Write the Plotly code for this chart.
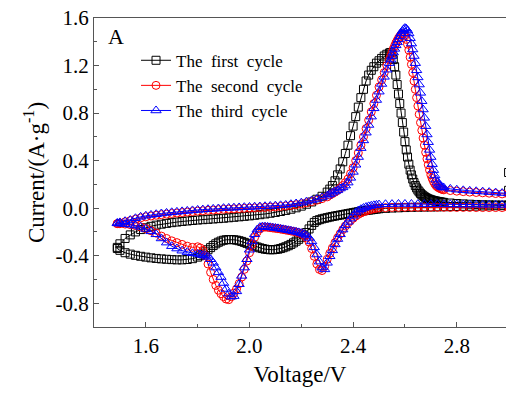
import plotly.graph_objects as go

# Voltage grid of the anodic (forward) sweep, 1.49 V -> 3.00 V
V_AN = [1.49, 1.50, 1.52, 1.54, 1.56, 1.58, 1.60, 1.62, 1.64, 1.66, 1.68, 1.70, 1.72, 1.74,
        1.76, 1.78, 1.80, 1.82, 1.84, 1.86, 1.88, 1.90, 1.92, 1.94, 1.96, 1.98, 2.00, 2.02,
        2.04, 2.06, 2.08, 2.10, 2.12, 2.14, 2.16, 2.18, 2.20, 2.22, 2.24, 2.26, 2.28, 2.30,
        2.31, 2.32, 2.33, 2.34, 2.35, 2.36, 2.37, 2.38, 2.39, 2.40, 2.41, 2.42, 2.43, 2.44,
        2.45, 2.46, 2.47, 2.48, 2.49, 2.50, 2.51, 2.52, 2.53, 2.54,
        2.545, 2.55, 2.555, 2.56, 2.565, 2.57, 2.575, 2.58, 2.585, 2.59, 2.595, 2.60, 2.605,
        2.61, 2.615, 2.62, 2.625, 2.63, 2.635, 2.64, 2.645, 2.65, 2.655, 2.66, 2.665, 2.67,
        2.675, 2.68, 2.685, 2.69, 2.695, 2.70, 2.705, 2.71, 2.715, 2.72, 2.725, 2.73, 2.735,
        2.74, 2.745, 2.75,
        2.775, 2.80, 2.825, 2.85, 2.875, 2.90, 2.925, 2.95, 2.975, 3.00]

# Voltage grid of the cathodic (reverse) sweep, 3.00 V -> 1.49 V
V_CAT = [3.000, 2.975, 2.950, 2.925, 2.900, 2.875, 2.850, 2.825, 2.800, 2.775, 2.750, 2.725,
         2.700, 2.675, 2.650, 2.625, 2.600, 2.575, 2.550, 2.525, 2.500,
         2.49, 2.48, 2.47, 2.46, 2.45, 2.44, 2.43, 2.42, 2.41, 2.40,
         2.39, 2.38, 2.37, 2.36, 2.35, 2.34, 2.33, 2.32, 2.31, 2.30,
         2.29, 2.28, 2.27, 2.26, 2.25, 2.24, 2.23, 2.22, 2.21, 2.20,
         2.19, 2.18, 2.17, 2.16, 2.15, 2.14, 2.13, 2.12, 2.11, 2.10,
         2.09, 2.08, 2.07, 2.06, 2.05, 2.04, 2.03, 2.02, 2.01, 2.00,
         1.99, 1.98, 1.97, 1.96, 1.95, 1.94, 1.93, 1.92, 1.91, 1.90,
         1.89, 1.88, 1.87, 1.86, 1.85, 1.84, 1.83, 1.82, 1.81, 1.80,
         1.78, 1.76, 1.74, 1.72, 1.70, 1.68, 1.66, 1.64, 1.62, 1.60, 1.58, 1.56, 1.54, 1.52,
         1.50, 1.49]

# ---- first cycle (black squares) ----
START1_V = [3.00, 3.00]
START1_I = [0.30, 0.15]
I1_CAT = [0.022, 0.021, 0.02, 0.019, 0.018, 0.017, 0.016, 0.015, 0.014, 0.013, 0.012, 0.011,
          0.01, 0.009, 0.008, 0.007, 0.005, 0.003, 0.001, -0.002, -0.005,
          -0.008, -0.011, -0.014, -0.017, -0.02, -0.023, -0.026, -0.03, -0.034, -0.038,
          -0.042, -0.046, -0.05, -0.054, -0.058, -0.062, -0.066, -0.07, -0.075, -0.08,
          -0.085, -0.09, -0.097, -0.105, -0.12, -0.145, -0.175, -0.205, -0.225, -0.245,
          -0.262, -0.278, -0.292, -0.305, -0.316, -0.325, -0.333, -0.34, -0.345, -0.348,
          -0.35, -0.35, -0.348, -0.345, -0.34, -0.334, -0.327, -0.32, -0.312, -0.304,
          -0.296, -0.288, -0.28, -0.274, -0.269, -0.266, -0.264, -0.264, -0.266, -0.27,
          -0.277, -0.287, -0.30, -0.315, -0.332, -0.35, -0.368, -0.385, -0.40, -0.412,
          -0.425, -0.432, -0.435, -0.435, -0.433, -0.43, -0.427, -0.423, -0.418, -0.412,
          -0.405, -0.397, -0.387, -0.375, -0.355, -0.34]
I1_AN = [-0.33, -0.30, -0.255, -0.225, -0.20, -0.18, -0.165, -0.153, -0.143, -0.135, -0.128,
         -0.122, -0.117, -0.112, -0.108, -0.104, -0.10, -0.097, -0.094, -0.091, -0.088, -0.085,
         -0.081, -0.077, -0.073, -0.069, -0.065, -0.06, -0.055, -0.049, -0.043, -0.036,
         -0.028, -0.019, -0.009, 0.003, 0.017, 0.033, 0.052, 0.075, 0.10, 0.135,
         0.16, 0.19, 0.23, 0.28, 0.33, 0.39, 0.46, 0.53, 0.61, 0.69, 0.77, 0.85, 0.93, 1.00,
         1.07, 1.12, 1.16, 1.19, 1.22, 1.24, 1.26, 1.28, 1.295, 1.305,
         1.31, 1.29, 1.25, 1.19, 1.12, 1.04, 0.96, 0.88, 0.80, 0.72, 0.64, 0.56, 0.49, 0.43,
         0.37, 0.32, 0.28, 0.245, 0.215, 0.19, 0.17, 0.152, 0.137, 0.124, 0.113, 0.104,
         0.096, 0.089, 0.083, 0.078, 0.074, 0.07, 0.067, 0.064, 0.061, 0.059, 0.057, 0.055,
         0.053, 0.051, 0.049, 0.048,
         0.043, 0.039, 0.036, 0.033, 0.031, 0.029, 0.028, 0.027, 0.026, 0.026]

# ---- second cycle (red circles) ----
I2_CAT = [0.005, 0.005, 0.005, 0.005, 0.005, 0.005, 0.006, 0.006, 0.006, 0.006, 0.007, 0.007,
          0.007, 0.008, 0.008, 0.008, 0.008, 0.007, 0.006, 0.004, 0.002,
          -0.001, -0.005, -0.01, -0.016, -0.023, -0.031, -0.041, -0.052, -0.067, -0.085,
          -0.105, -0.125, -0.15, -0.18, -0.215, -0.25, -0.29, -0.335, -0.38, -0.43,
          -0.49, -0.525, -0.515, -0.47, -0.405, -0.34, -0.285, -0.25, -0.228, -0.215,
          -0.207, -0.201, -0.196, -0.192, -0.188, -0.184, -0.18, -0.176, -0.173, -0.17,
          -0.167, -0.164, -0.161, -0.159, -0.161, -0.175, -0.20, -0.245, -0.305, -0.375,
          -0.445, -0.515, -0.58, -0.635, -0.68, -0.715, -0.745, -0.77, -0.765, -0.745,
          -0.72, -0.69, -0.65, -0.60, -0.54, -0.47, -0.40, -0.355, -0.335, -0.325,
          -0.33, -0.32, -0.305, -0.29, -0.275, -0.255, -0.235, -0.21, -0.19, -0.172,
          -0.158, -0.147, -0.139, -0.134, -0.131, -0.13]
I2_AN = [-0.13, -0.125, -0.115, -0.105, -0.093, -0.082, -0.073, -0.066, -0.06, -0.055, -0.05,
         -0.045, -0.041, -0.037, -0.033, -0.029, -0.025, -0.022, -0.019, -0.016, -0.013, -0.01,
         -0.008, -0.006, -0.004, -0.002, 0.0, 0.002, 0.004, 0.006, 0.008, 0.011, 0.014, 0.018,
         0.023, 0.029, 0.036, 0.045, 0.055, 0.067, 0.08, 0.095,
         0.11, 0.122, 0.135, 0.15, 0.168, 0.19, 0.215, 0.245, 0.29, 0.34, 0.40, 0.465, 0.53,
         0.60, 0.67, 0.74, 0.81, 0.88, 0.95, 1.02, 1.08, 1.14, 1.20, 1.25,
         1.28, 1.31, 1.34, 1.365, 1.39, 1.41, 1.43, 1.445, 1.46, 1.47, 1.465, 1.45, 1.42, 1.38,
         1.33, 1.27, 1.21, 1.14, 1.07, 1.00, 0.93, 0.86, 0.79, 0.72, 0.655, 0.59, 0.53, 0.47,
         0.415, 0.365, 0.32, 0.28, 0.25, 0.225, 0.205, 0.19, 0.18, 0.172, 0.166, 0.161, 0.157,
         0.154,
         0.148, 0.143, 0.139, 0.135, 0.132, 0.129, 0.126, 0.123, 0.12, 0.118]

# ---- third cycle (blue triangles) ----
I3_CAT = [0.028, 0.028, 0.028, 0.029, 0.029, 0.03, 0.03, 0.031, 0.031, 0.032, 0.032, 0.033,
          0.033, 0.034, 0.034, 0.035, 0.035, 0.035, 0.034, 0.033, 0.03,
          0.027, 0.024, 0.02, 0.015, 0.009, 0.001, -0.009, -0.021, -0.036, -0.065,
          -0.088, -0.115, -0.145, -0.18, -0.22, -0.26, -0.305, -0.355, -0.405, -0.46,
          -0.515, -0.50, -0.45, -0.39, -0.33, -0.28, -0.25, -0.23, -0.218, -0.21,
          -0.204, -0.199, -0.195, -0.19, -0.186, -0.182, -0.178, -0.174, -0.17, -0.167,
          -0.164, -0.161, -0.158, -0.156, -0.155, -0.16, -0.18, -0.22, -0.28, -0.35,
          -0.43, -0.50, -0.57, -0.64, -0.70, -0.74, -0.745, -0.72, -0.68, -0.63,
          -0.58, -0.54, -0.50, -0.46, -0.43, -0.41, -0.40, -0.395, -0.39, -0.385,
          -0.38, -0.37, -0.358, -0.34, -0.32, -0.29, -0.255, -0.22, -0.195, -0.175,
          -0.158, -0.147, -0.14, -0.135, -0.131, -0.128]
I3_AN = [-0.125, -0.12, -0.11, -0.10, -0.085, -0.073, -0.064, -0.057, -0.051, -0.045, -0.04,
         -0.035, -0.031, -0.027, -0.023, -0.019, -0.015, -0.012, -0.009, -0.006, -0.003, 0.0,
         0.002, 0.004, 0.006, 0.008, 0.01, 0.012, 0.014, 0.016, 0.018, 0.021, 0.024, 0.027,
         0.033, 0.039, 0.046, 0.055, 0.065, 0.077, 0.09, 0.105,
         0.118, 0.13, 0.14, 0.15, 0.165, 0.175, 0.19, 0.215, 0.255, 0.305, 0.365, 0.43, 0.505,
         0.57, 0.635, 0.70, 0.77, 0.84, 0.91, 0.98, 1.045, 1.105, 1.165, 1.22,
         1.25, 1.28, 1.31, 1.34, 1.37, 1.395, 1.42, 1.445, 1.47, 1.49, 1.505, 1.515, 1.51,
         1.495, 1.47, 1.43, 1.385, 1.335, 1.28, 1.22, 1.16, 1.10, 1.04, 0.97, 0.90, 0.83,
         0.76, 0.69, 0.62, 0.555, 0.49, 0.43, 0.37, 0.32, 0.275, 0.24, 0.215, 0.198, 0.188,
         0.181, 0.176, 0.172,
         0.162, 0.155, 0.15, 0.146, 0.142, 0.139, 0.135, 0.131, 0.127, 0.124]

NAMES = ["The\u00a0 first\u00a0 cycle", "The\u00a0 second\u00a0 cycle", "The\u00a0 third\u00a0 cycle"]
COLORS = ["#000000", "#ff0000", "#0000ff"]
SYMBOLS = ["square-open", "circle-open", "triangle-up-open"]
SIZES = [8, 8, 9]

X_TICKS = [1.6, 2.0, 2.4, 2.8]
X_TICKTEXT = ["1.6", "2.0", "2.4", "2.8"]
X_MINOR = [1.8, 2.2, 2.6]
Y_TICKS = [-0.8, -0.4, 0.0, 0.4, 0.8, 1.2, 1.6]
Y_TICKTEXT = ["-0.8", "-0.4", "0.0", "0.4", "0.8", "1.2", "1.6"]
Y_MINOR = [-1.0, -0.6, -0.2, 0.2, 0.6, 1.0, 1.4]

for a, b in [(V_AN, I1_AN), (V_AN, I2_AN), (V_AN, I3_AN),
             (V_CAT, I1_CAT), (V_CAT, I2_CAT), (V_CAT, I3_CAT)]:
    assert len(a) == len(b), (len(a), len(b))

series = [
    (START1_V + V_CAT + V_AN, START1_I + I1_CAT + I1_AN),
    (V_CAT + V_AN, I2_CAT + I2_AN),
    (V_CAT + V_AN, I3_CAT + I3_AN),
]

FONT = "'Liberation Serif', Tinos, 'Times New Roman', Times, 'DejaVu Serif', serif"

fig = go.Figure()
for (xs, ys), name, col, sym, sz in zip(series, NAMES, COLORS, SYMBOLS, SIZES):
    fig.add_trace(go.Scatter(
        x=xs, y=ys, name=name, mode="lines+markers",
        line=dict(color=col, width=1),
        marker=dict(symbol=sym, size=sz, color=col, line=dict(width=1, color=col)),
    ))

axis_common = dict(
    showline=True, linecolor="#555555", linewidth=1.3,
    showgrid=False, zeroline=False,
    ticks="inside", tickcolor="#555555", tickwidth=1.3, ticklen=5,
    tickfont=dict(family=FONT, size=21, color="#000"),
)

fig.update_layout(
    width=506, height=395,
    margin=dict(l=94, r=0, t=18, b=68),
    paper_bgcolor="white", plot_bgcolor="white",
    font=dict(family=FONT, color="#000"),
    showlegend=True,
    legend=dict(x=0.102, y=0.92, xanchor="left", yanchor="top",
                font=dict(family=FONT, size=17, color="#000"),
                bgcolor="rgba(0,0,0,0)", borderwidth=0, itemwidth=30,
                tracegroupgap=0),
    xaxis=dict(range=[1.4, 2.99], tickmode="array", tickvals=X_TICKS, ticktext=X_TICKTEXT,
               mirror=True,
               minor=dict(tickmode="array", tickvals=X_MINOR, ticks="inside", ticklen=3,
                          tickcolor="#555555", tickwidth=1.3),
               title=dict(text="Voltage/V", font=dict(family=FONT, size=23, color="#000"),
                          standoff=8),
               **axis_common),
    yaxis=dict(range=[-1.0, 1.6], tickmode="array", tickvals=Y_TICKS, ticktext=Y_TICKTEXT,
               minor=dict(tickmode="array", tickvals=Y_MINOR, ticks="inside", ticklen=3,
                          tickcolor="#555555", tickwidth=1.3),
               title=dict(text="Current/(A·g<sup>-1</sup>)",
                          font=dict(family=FONT, size=23, color="#000"), standoff=4),
               **axis_common),
    annotations=[dict(text="A", x=0.03, y=0.94, xref="paper", yref="paper",
                      xanchor="left", yanchor="middle", showarrow=False,
                      font=dict(family=FONT, size=22, color="#000"))],
)

fig.write_html("out.html")
